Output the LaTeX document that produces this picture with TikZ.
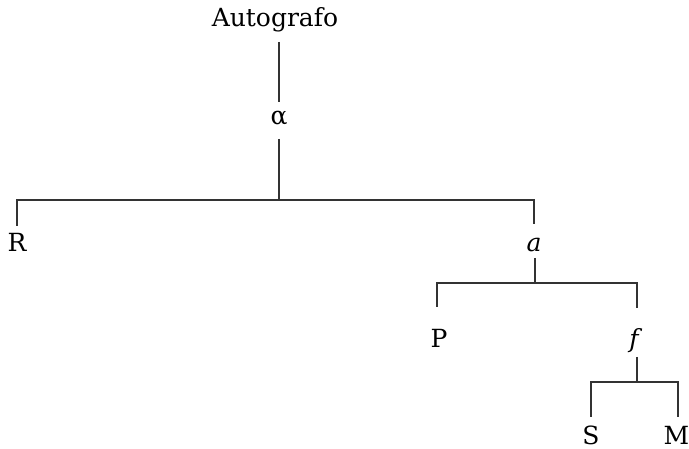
\documentclass[tikz,border=0pt]{standalone}
\usepackage{fontspec}
\setmainfont{DejaVu Serif}
\usetikzlibrary{calc}
\begin{document}
\begin{tikzpicture}[x=1pt,y=-1pt,
  lbl/.style={anchor=base,inner sep=0pt,font=\fontsize{25}{30}\selectfont,text=black},
  edge/.style={draw=black!80,line width=1.2pt}]
\useasboundingbox (0,0) rectangle (689,449);
\node[lbl] (auto) at (275,27) {Autografo};
\node[lbl] (alpha) at (279,125) {α};
\node[lbl] (R) at (17,252) {R};
\node[lbl] (a) at (534,252) {\itshape a};
\node[lbl] (P) at (439,348) {P};
\node[lbl] (f) at (634,348) {\itshape f};
\node[lbl] (S) at (591,444) {S};
\node[lbl] (M) at (676.5,444) {M};
\coordinate (j1) at (279,200);
\coordinate (j2) at (535,283);
\coordinate (j3) at (637,382);
\coordinate (rtop) at (17,226);
\coordinate (atop) at (534,224);
\coordinate (ptop) at (437,307);
\coordinate (ftop) at (637,308);
\coordinate (stop) at (591,417);
\coordinate (mtop) at (678,417);
\draw[edge] ($(alpha.base |- auto.base)+(0,-15pt)$) -- ($(alpha.base)+(0,23pt)$);
\draw[edge] ($(alpha.base)+(0,-14pt)$) -- (j1);
\draw[edge] (rtop) |- (j1) -| (atop);
\draw[edge] ($(a.base -| j2)+(0,-6pt)$) -- (j2);
\draw[edge] (ptop) |- (j2) -| (ftop);
\draw[edge] ($(f.base -| j3)+(0,-9pt)$) -- (j3);
\draw[edge] (stop) |- (j3) -| (mtop);
\end{tikzpicture}
\end{document}
